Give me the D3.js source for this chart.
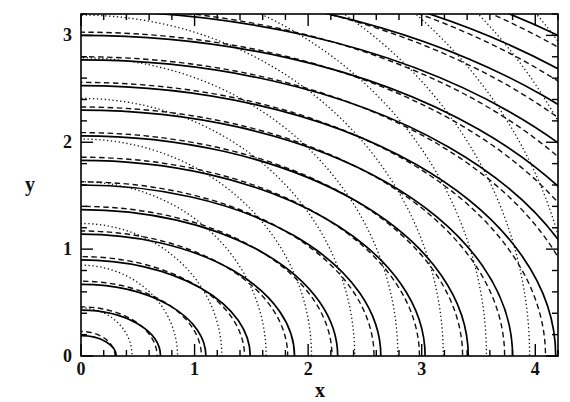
<!DOCTYPE html>
<html>
<head>
<meta charset="utf-8">
<script src="https://cdn.jsdelivr.net/npm/d3@7"></script>
<style>
  html, body { margin: 0; padding: 0; background: #fff; }
  svg { display: block; }
  text { font-family: "Liberation Serif", "DejaVu Serif", serif; fill: #111; }
</style>
</head>
<body>
<svg id="chart" width="570" height="402"></svg>
<script>
// ---- data ----
// solid contours: x-intercepts and y-intercepts
const solidA = [0.31, 0.70, 1.10, 1.49, 1.88, 2.26, 2.64, 3.03, 3.41, 3.80, 4.18, 4.57, 4.95, 5.34, 5.73, 6.11, 6.50];
const solidB = [0.19, 0.43, 0.67, 0.90, 1.14, 1.37, 1.60, 1.83, 2.06, 2.30, 2.53, 2.77, 3.00, 3.23, 3.46, 3.70, 3.93];
// dashed contours: x-intercepts and y-intercepts
const dashedA = [0.30, 0.67, 1.06, 1.44, 1.82, 2.21, 2.58, 2.98, 3.36, 3.73, 4.09, 4.45, 4.77, 5.12, 5.46, 5.80, 6.14];
const dashedB = [0.23, 0.46, 0.70, 0.93, 1.17, 1.40, 1.63, 1.86, 2.09, 2.33, 2.56, 2.80, 3.03, 3.26, 3.49, 3.73, 3.96];
// dotted contours (circles): radii
const dottedR = [0.45, 0.85, 1.24, 1.63, 2.03, 2.41, 2.79, 3.19, 3.57, 3.95, 4.35, 4.74, 5.13];
// axes
const xTicks = [0, 1, 2, 3, 4];
const yTicks = [0, 1, 2, 3];
const xMinor = [0.2,0.4,0.6,0.8,1.2,1.4,1.6,1.8,2.2,2.4,2.6,2.8,3.2,3.4,3.6,3.8,4.2];
const yMinor = [0.2,0.4,0.6,0.8,1.2,1.4,1.6,1.8,2.2,2.4,2.6,2.8,3.2];
const xDomain = [0, 4.2];
const yDomain = [0, 3.2];

// ---- layout ----
const L = 81, R = 558, T = 14, B = 356;
const svg = d3.select("#chart");
const x = d3.scaleLinear().domain(xDomain).range([L, R]);
const y = d3.scaleLinear().domain(yDomain).range([B, T]);

svg.append("defs").append("clipPath").attr("id", "plotclip")
  .append("rect").attr("x", L).attr("y", T).attr("width", R - L).attr("height", B - T);

const g = svg.append("g").attr("clip-path", "url(#plotclip)");

// dotted circles
g.selectAll("ellipse.dot").data(dottedR).join("ellipse")
  .attr("class", "dot")
  .attr("cx", x(0)).attr("cy", y(0))
  .attr("rx", d => x(d) - x(0)).attr("ry", d => y(0) - y(d))
  .attr("fill", "none").attr("stroke", "#111").attr("stroke-width", 1.3)
  .attr("stroke-dasharray", "1.3,2.6");

// dashed contours
g.selectAll("ellipse.dash").data(dashedA.map((a, i) => [a, dashedB[i]])).join("ellipse")
  .attr("class", "dash")
  .attr("cx", x(0)).attr("cy", y(0))
  .attr("rx", d => x(d[0]) - x(0)).attr("ry", d => y(0) - y(d[1]))
  .attr("fill", "none").attr("stroke", "#111").attr("stroke-width", 1.4)
  .attr("stroke-dasharray", "5.5,3.5");

// solid contours
g.selectAll("ellipse.sol").data(solidA.map((a, i) => [a, solidB[i]])).join("ellipse")
  .attr("class", "sol")
  .attr("cx", x(0)).attr("cy", y(0))
  .attr("rx", d => x(d[0]) - x(0)).attr("ry", d => y(0) - y(d[1]))
  .attr("fill", "none").attr("stroke", "#000").attr("stroke-width", 1.7);

// frame
svg.append("rect").attr("x", L).attr("y", T).attr("width", R - L).attr("height", B - T)
  .attr("fill", "none").attr("stroke", "#000").attr("stroke-width", 1.6);

// ticks on all sides (inward)
const tk = svg.append("g").attr("stroke", "#000").attr("stroke-width", 1.4);
const majLen = 12, minLen = 6;
xTicks.forEach(v => {
  tk.append("line").attr("x1", x(v)).attr("x2", x(v)).attr("y1", B).attr("y2", B - majLen);
  tk.append("line").attr("x1", x(v)).attr("x2", x(v)).attr("y1", T).attr("y2", T + majLen);
});
xMinor.forEach(v => {
  tk.append("line").attr("x1", x(v)).attr("x2", x(v)).attr("y1", B).attr("y2", B - minLen);
  tk.append("line").attr("x1", x(v)).attr("x2", x(v)).attr("y1", T).attr("y2", T + minLen);
});
yTicks.forEach(v => {
  tk.append("line").attr("y1", y(v)).attr("y2", y(v)).attr("x1", L).attr("x2", L + majLen);
  tk.append("line").attr("y1", y(v)).attr("y2", y(v)).attr("x1", R).attr("x2", R - majLen);
});
yMinor.forEach(v => {
  tk.append("line").attr("y1", y(v)).attr("y2", y(v)).attr("x1", L).attr("x2", L + minLen);
  tk.append("line").attr("y1", y(v)).attr("y2", y(v)).attr("x1", R).attr("x2", R - minLen);
});

// tick labels
svg.selectAll("text.xl").data(xTicks).join("text").attr("class", "xl")
  .attr("x", d => x(d)).attr("y", 375).attr("text-anchor", "middle")
  .attr("font-size", 18).attr("font-weight", "bold").text(d => d);
svg.selectAll("text.yl").data(yTicks).join("text").attr("class", "yl")
  .attr("x", 72).attr("y", d => y(d) + 6).attr("text-anchor", "end")
  .attr("font-size", 18).attr("font-weight", "bold").text(d => d);

// axis titles
svg.append("text").attr("x", 320).attr("y", 397).attr("text-anchor", "middle")
  .attr("font-size", 20).attr("font-weight", "bold").text("x");
svg.append("text").attr("x", 30).attr("y", 191).attr("text-anchor", "middle")
  .attr("font-size", 20).attr("font-weight", "bold").text("y");
</script>
</body>
</html>
